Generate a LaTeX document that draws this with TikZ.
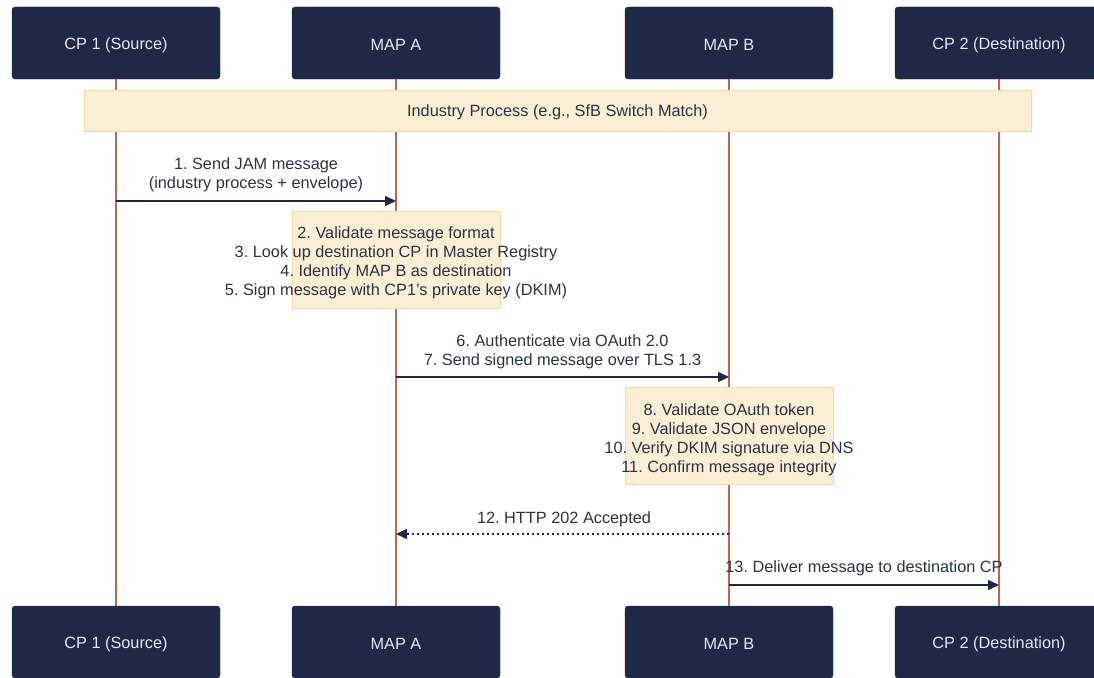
\documentclass[tikz,border=0pt]{standalone}
\usepackage{fontspec}
\setmainfont{Liberation Sans}
\usetikzlibrary{arrows.meta}
\frenchspacing
\definecolor{navy}{HTML}{1E2947}
\definecolor{lifec}{HTML}{B8694E}
\definecolor{notefill}{HTML}{FBEED3}
\definecolor{notedraw}{HTML}{F2DBA6}
\definecolor{txt}{HTML}{2B3248}
\definecolor{actxt}{HTML}{E6E8EE}
\tikzset{
  actor/.style={draw=navy, fill=navy, rounded corners=3pt, minimum width=208pt, minimum height=72pt, inner sep=0pt},
  actlbl/.style={text=actxt, font=\fontsize{16.3}{19}\selectfont\frenchspacing, inner sep=0pt, yshift=-2pt},
  life/.style={draw=lifec, line width=1.3pt},
  notebox/.style={draw=notedraw, fill=notefill, line width=1pt, inner sep=0pt},
  msgtxt/.style={text=txt, font=\fontsize{16.3}{19}\selectfont\frenchspacing, align=center, inner sep=0pt, yshift=-2pt},
  msg/.style={draw=navy, line width=1.5pt, -{Triangle[length=11pt,width=10pt]}},
  reply/.style={draw=navy, line width=1.5pt, dash pattern=on 2.5pt off 2.5pt, -{Triangle[length=11pt,width=10pt]}}
}
\begin{document}
\begin{tikzpicture}[x=1pt,y=-1pt]
\useasboundingbox (0,0) rectangle (1094,677);
\clip (0,0) rectangle (1094,677);
% actors
\node[actor] (a1t) at (116,43) {};
\node[actor] (a2t) at (396,43) {};
\node[actor] (a3t) at (729,43) {};
\node[actor] (a4t) at (999,43) {};
\node[actor] (a1b) at (116,642) {};
\node[actor] (a2b) at (396,642) {};
\node[actor] (a3b) at (729,642) {};
\node[actor] (a4b) at (999,642) {};
\node[actlbl] (l1t) at (a1t.center) {CP 1 (Source)};
\node[actlbl] (l2t) at (a2t.center) {MAP A};
\node[actlbl] (l3t) at (a3t.center) {MAP B};
\node[actlbl] (l4t) at (a4t.center) {CP 2 (Destination)};
\node[actlbl] (l1b) at (a1b.center) {CP 1 (Source)};
\node[actlbl] (l2b) at (a2b.center) {MAP A};
\node[actlbl] (l3b) at (a3b.center) {MAP B};
\node[actlbl] (l4b) at (a4b.center) {CP 2 (Destination)};
% lifelines
\draw[life] (a1t.south) -- (a1b.north);
\draw[life] (a2t.south) -- (a2b.north);
\draw[life] (a3t.south) -- (a3b.north);
\draw[life] (a4t.south) -- (a4b.north);
% industry process
\node[notebox, minimum width=947pt, minimum height=41pt] (ind) at (557.5,110.5) {};
\node[msgtxt] (indt) at (ind.center) {Industry Process (e.g., SfB Switch Match)};
% message 1
\coordinate (m1s) at (116,201);
\coordinate (m1e) at (396,201);
\draw[msg] (m1s) -- (m1e);
\node[msgtxt] (m1t) at (256,172.5) {1. Send JAM message\\(industry process + envelope)};
% note 1
\node[notebox, minimum width=208pt, minimum height=97pt] (n1) at (396,259.5) {};
\node[msgtxt] (n1t) at (396,261) {2. Validate message format\\3. Look up destination CP in Master Registry\\4. Identify MAP B as destination\\5. Sign message with CP1's private key (DKIM)};
% message 6/7
\coordinate (m2s) at (396,377);
\coordinate (m2e) at (729,377);
\draw[msg] (m2s) -- (m2e);
\node[msgtxt] (m2t) at (562.5,349.5) {6. Authenticate via OAuth 2.0\\7. Send signed message over TLS 1.3};
% note 2
\node[notebox, minimum width=208pt, minimum height=97pt] (n2) at (729,435.5) {};
\node[msgtxt] (n2t) at (729,437.5) {8. Validate OAuth token\\9. Validate JSON envelope\\10. Verify DKIM signature via DNS\\11. Confirm message integrity};
% message 12
\coordinate (m3s) at (729,534);
\coordinate (m3e) at (396,534);
\draw[reply] (m3s) -- (m3e);
\node[msgtxt] (m3t) at (564,517) {12. HTTP 202 Accepted};
% message 13
\coordinate (m4s) at (729,585);
\coordinate (m4e) at (999,585);
\draw[msg] (m4s) -- (m4e);
\node[msgtxt] (m4t) at (864,566) {13. Deliver message to destination CP};
\end{tikzpicture}
\end{document}
